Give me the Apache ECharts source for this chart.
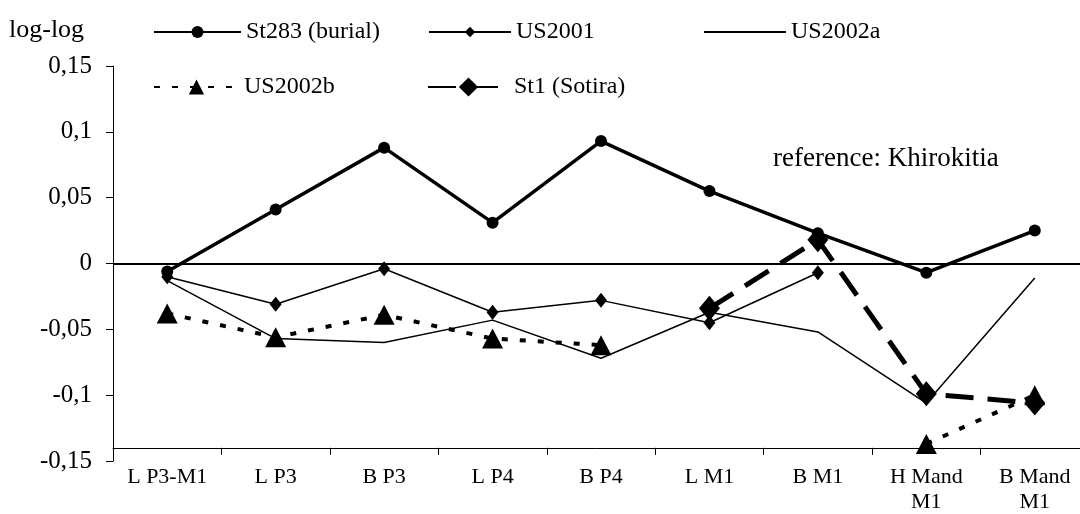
<!DOCTYPE html>
<html>
<head>
<meta charset="utf-8">
<script src="https://cdn.jsdelivr.net/npm/echarts@6/dist/echarts.min.js"></script>
<style>
  html, body { margin: 0; padding: 0; background: #fff; }
  #chart { width: 1080px; height: 514px; }
</style>
</head>
<body>
<div id="chart"></div>
<script>
const categories = ['L P3-M1', 'L P3', 'B P3', 'L P4', 'B P4', 'L M1', 'B M1', 'H Mand\nM1', 'B Mand\nM1'];
const st283   = [-0.006, 0.041, 0.088, 0.031, 0.093, 0.055, 0.023, -0.007, 0.025];
const us2001  = [-0.010, -0.031, -0.004, -0.037, -0.028, -0.045, -0.007, null, null];
const us2002a = [-0.013, -0.057, -0.060, -0.043, -0.072, -0.037, -0.052, -0.106, -0.011];
const us2002b = [-0.038, -0.056, -0.039, -0.057, -0.062, null, null, -0.137, -0.100];
const st1     = [null, null, null, null, null, -0.034, 0.018, -0.099, -0.106];
const seriesNames = ['St283 (burial)', 'US2001', 'US2002a', 'US2002b', 'St1 (Sotira)'];
const yTicks = { min: -0.15, max: 0.15, interval: 0.05 };

const FONT = 'Liberation Serif';
const chart = echarts.init(document.getElementById('chart'), null, { renderer: 'canvas' });

function legendAt(name, left, centerY, itemWidth, itemHeight, extra) {
  return Object.assign({
    data: [name], left: left, top: centerY - 12, orient: 'horizontal',
    itemWidth: itemWidth, itemHeight: itemHeight, padding: 0, selectedMode: false,
    textStyle: { fontFamily: FONT, fontSize: 24, color: '#000' }
  }, extra || {});
}

chart.setOption({
  animation: false,
  backgroundColor: '#fff',
  title: {
    text: 'log-log', left: 9, top: 15, padding: 0,
    textStyle: { fontFamily: FONT, fontSize: 26, fontWeight: 'normal', color: '#000', lineHeight: 30 }
  },
  graphic: [{
    type: 'text', left: 773, top: 145,
    style: { text: 'reference: Khirokitia', fontFamily: FONT, fontSize: 27, fill: '#000' }
  }],
  legend: [
    legendAt(seriesNames[0], 153, 32, 87, 15),
    legendAt(seriesNames[1], 428, 32, 82, 13),
    legendAt(seriesNames[2], 703, 32, 82, 12, { itemStyle: { opacity: 0 } }),
    legendAt(seriesNames[3], 153, 87, 85, 19),
    legendAt(seriesNames[4], 427, 87, 81, 24)
  ],
  grid: { left: 113, top: 66, width: 976, height: 395, containLabel: false, outerBoundsMode: 'none' },
  xAxis: {
    type: 'category', data: categories, boundaryGap: true,
    axisLine: { onZero: true, onZeroAxisIndex: 1, lineStyle: { color: '#000', width: 1 } },
    axisTick: { show: true, length: 7, inside: false, lineStyle: { color: '#000' } },
    axisLabel: { fontFamily: FONT, fontSize: 22, color: '#000', margin: 4, lineHeight: 25, interval: 0 },
    splitLine: { show: false }
  },
  yAxis: [{
    type: 'value', min: yTicks.min, max: yTicks.max, interval: yTicks.interval,
    axisLine: { show: true, lineStyle: { color: '#000', width: 1 } },
    axisTick: { show: true, length: 7, inside: false, lineStyle: { color: '#000' } },
    axisLabel: {
      fontFamily: FONT, fontSize: 25, color: '#000', margin: 21,
      formatter: v => String(+v.toFixed(2)).replace('.', ',')
    },
    splitLine: { show: false }
  }, {
    type: 'value', min: -0.01, max: 0.29, show: false
  }],
  series: [
    {
      name: seriesNames[0], type: 'line', data: st283, yAxisIndex: 0, z: 5,
      symbol: 'circle', symbolSize: 12, showAllSymbol: true,
      lineStyle: { color: '#000', width: 3.5 },
      itemStyle: { color: '#000' },
      markLine: {
        silent: true, symbol: 'none', label: { show: false },
        lineStyle: { color: '#000', width: 2, type: 'solid' },
        data: [{ yAxis: 0 }]
      }
    },
    {
      name: seriesNames[1], type: 'line', data: us2001, yAxisIndex: 0, z: 4,
      symbol: 'diamond', symbolSize: [12, 15], showAllSymbol: true,
      lineStyle: { color: '#000', width: 1.5 },
      itemStyle: { color: '#000' }
    },
    {
      name: seriesNames[2], type: 'line', data: us2002a, yAxisIndex: 0, z: 3,
      symbol: 'none',
      lineStyle: { color: '#000', width: 1.5 },
      itemStyle: { color: '#000' }
    },
    {
      name: seriesNames[3], type: 'line', data: us2002b, yAxisIndex: 0, z: 3,
      symbol: 'triangle', symbolSize: [21, 20], showAllSymbol: true,
      lineStyle: { color: '#000', width: 4, type: [6, 12], cap: 'butt' },
      itemStyle: { color: '#000' }
    },
    {
      name: seriesNames[4], type: 'line', data: st1, yAxisIndex: 0, z: 4,
      symbol: 'diamond', symbolSize: [21, 25], showAllSymbol: true,
      lineStyle: { color: '#000', width: 5, type: [28, 14], cap: 'butt' },
      itemStyle: { color: '#000' }
    }
  ]
});
</script>
</body>
</html>
